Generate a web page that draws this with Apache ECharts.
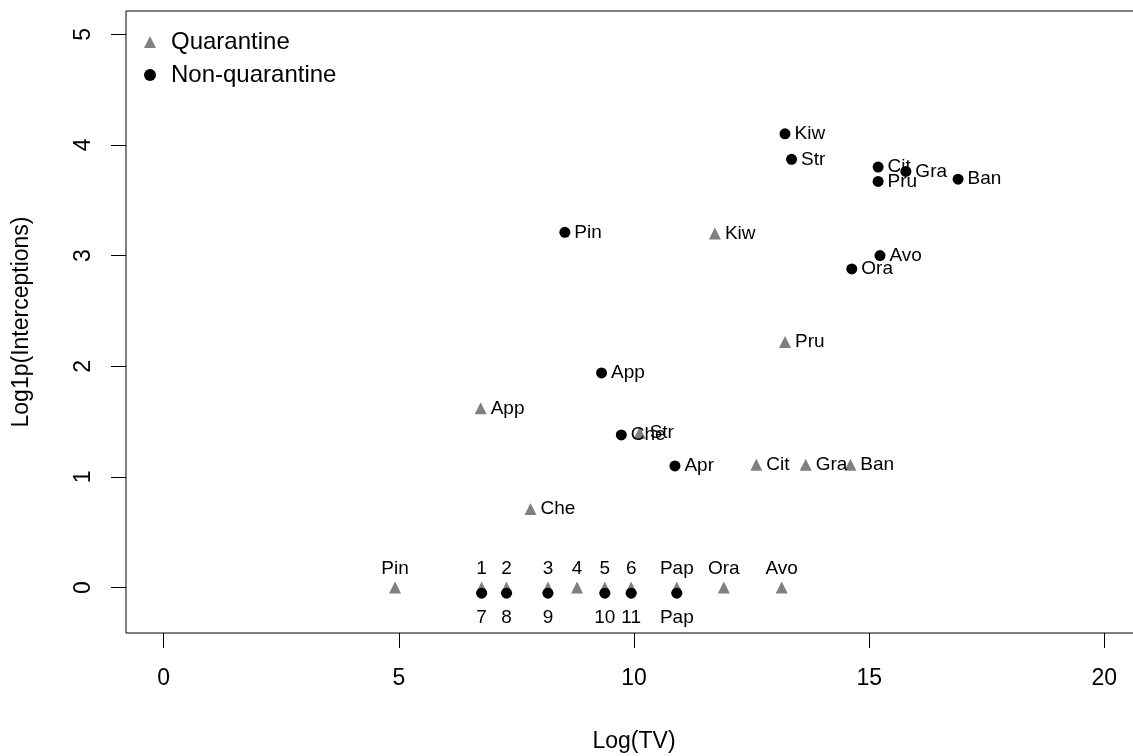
<!DOCTYPE html>
<html>
<head>
    <meta charset="utf-8">
    <title>Log(TV) vs Log1p(Interceptions)</title>
    <script src="https://cdn.jsdelivr.net/npm/echarts@6/dist/echarts.min.js"></script>
    <style>
        body { margin: 0; background: #fff; }
    </style>
</head>
<body>
<div id="main" style="width: 1133px;height:756px;"></div>
<script type="text/javascript">
    // quarantine group (grey triangles)
    var qNames = ['Pin', '1', '2', '3', '4', '5', '6', 'Pap', 'Ora', 'Avo',
                  'Kiw', 'Pru', 'App', 'Che', 'Str', 'Cit', 'Gra', 'Ban'];
    var qX = [4.92, 6.76, 7.29, 8.17, 8.79, 9.38, 9.94, 10.91, 11.91, 13.14,
              11.72, 13.21, 6.74, 7.80, 10.12, 12.60, 13.65, 14.60];
    var qY = [0, 0, 0, 0, 0, 0, 0, 0, 0, 0,
              3.20, 2.22, 1.62, 0.71, 1.40, 1.11, 1.11, 1.11];

    // non-quarantine group (black dots)
    var nNames = ['7', '8', '9', '10', '11', 'Pap',
                  'Kiw', 'Str', 'Cit', 'Pru', 'Gra', 'Ban', 'Pin', 'Avo', 'Ora', 'App', 'Che', 'Apr'];
    var nX = [6.76, 7.29, 8.17, 9.38, 9.94, 10.91,
              13.21, 13.35, 15.19, 15.19, 15.78, 16.89, 8.53, 15.23, 14.63, 9.31, 9.73, 10.87];
    var nY = [-0.05, -0.05, -0.05, -0.05, -0.05, -0.05,
              4.10, 3.87, 3.80, 3.67, 3.76, 3.69, 3.21, 3.00, 2.88, 1.94, 1.38, 1.10];

    var xTicks = [0, 5, 10, 15, 20];
    var yTicks = [0, 1, 2, 3, 4, 5];

    var font = "'Liberation Sans', Arial, sans-serif";

    // points on the zero line get their label above (quarantine) or below (non-quarantine)
    function build(names, xs, ys, lowPos, lowDist) {
        var out = [];
        for (var i = 0; i < names.length; i++) {
            var low = ys[i] <= 0;
            out.push({
                name: names[i],
                value: [xs[i], ys[i]],
                label: {
                    position: low ? lowPos : 'right',
                    distance: low ? lowDist : 4
                }
            });
        }
        return out;
    }

    var myChart = echarts.init(document.getElementById('main'));

    var option = {
        animation: false,
        textStyle: { fontFamily: font },
        grid: {
            left: 126,
            top: 11,
            width: 1016,
            height: 622,
            outerBoundsMode: 'none',
            containLabel: false,
            show: true,
            borderColor: '#000',
            borderWidth: 1
        },
        legend: {
            orient: 'vertical',
            left: 139,
            top: 25,
            itemWidth: 12,
            itemHeight: 12,
            itemGap: 9,
            textStyle: { fontSize: 24, color: '#000', fontFamily: font, lineHeight: 24, padding: [0, 0, 0, 10] },
            data: ['Quarantine', 'Non-quarantine']
        },
        xAxis: {
            type: 'value',
            min: -0.8,
            max: 20.8,
            name: 'Log(TV)',
            nameLocation: 'middle',
            nameGap: 97,
            nameTextStyle: { fontSize: 23, color: '#000', fontFamily: font },
            axisLine: { show: false, onZero: false },
            axisTick: { show: true, length: 15, lineStyle: { color: '#000' }, customValues: xTicks },
            axisLabel: { fontSize: 23, color: '#000', margin: 34, customValues: xTicks },
            splitLine: { show: false }
        },
        yAxis: {
            type: 'value',
            min: -0.41,
            max: 5.21,
            name: 'Log1p(Interceptions)',
            nameLocation: 'middle',
            nameGap: 93,
            nameTextStyle: { fontSize: 23, color: '#000', fontFamily: font },
            axisLine: { show: false, onZero: false },
            axisTick: { show: true, length: 15, lineStyle: { color: '#000' }, customValues: yTicks },
            axisLabel: { fontSize: 23, color: '#000', margin: 31, rotate: 90, customValues: yTicks },
            splitLine: { show: false }
        },
        series: [
            {
                name: 'Quarantine',
                type: 'scatter',
                symbol: 'triangle',
                symbolSize: 12,
                itemStyle: { color: '#808080', opacity: 1 },
                label: {
                    show: true,
                    formatter: '{b}',
                    fontSize: 19,
                    color: '#000',
                    fontFamily: font
                },
                data: build(qNames, qX, qY, 'top', 3)
            },
            {
                name: 'Non-quarantine',
                type: 'scatter',
                symbol: 'circle',
                symbolSize: 11,
                itemStyle: { color: '#000', opacity: 1 },
                label: {
                    show: true,
                    formatter: '{b}',
                    fontSize: 19,
                    color: '#000',
                    fontFamily: font
                },
                data: build(nNames, nX, nY, 'bottom', 10)
            }
        ]
    };

    myChart.setOption(option);
</script>
</body>
</html>
